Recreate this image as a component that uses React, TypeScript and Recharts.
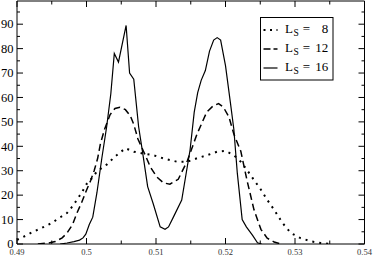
import { LineChart, Line, XAxis, YAxis, Legend } from 'recharts'

const xTicks = [0.49, 0.495, 0.5, 0.505, 0.51, 0.515, 0.52, 0.525, 0.53, 0.535, 0.54]
const yTicks = [0, 5, 10, 15, 20, 25, 30, 35, 40, 45, 50, 55, 60, 65, 70, 75, 80, 85, 90, 95]

const sizes = [8, 12, 16]

// L_S = 8 (dotted)
const x8 = [
  0.49, 0.4912, 0.4923, 0.4935, 0.4948, 0.496, 0.4972, 0.498, 0.4986, 0.4993, 0.5, 0.5008,
  0.5015, 0.5029, 0.5041, 0.5056, 0.5068, 0.5082, 0.5096, 0.5111, 0.513, 0.5145, 0.5159,
  0.5174, 0.5188, 0.52, 0.5212, 0.5222, 0.5231, 0.5241, 0.5251, 0.526, 0.527, 0.5282,
  0.5294, 0.5308, 0.5323, 0.5337, 0.535,
]
const y8 = [
  1.7, 3.3, 5, 6.5, 8.3, 10.5, 12.7, 15.5, 18, 21, 24.5, 27, 29.7, 32.5, 35.8, 39.2, 37.8,
  37, 36.4, 35, 33.7, 33.7, 35.1, 36.4, 37.8, 38.1, 36.4, 33.7, 30.3, 26.2, 22.2, 18.1, 14,
  8.6, 4.5, 2.4, 1.1, 0.4, 0,
]

// L_S = 12 (dashed)
const x12 = [
  0.493, 0.4945, 0.4955, 0.4965, 0.4972, 0.498, 0.4986, 0.4993, 0.5, 0.5006, 0.5011, 0.5016,
  0.502, 0.5026, 0.5034, 0.5041, 0.5048, 0.5056, 0.5063, 0.5068, 0.5074, 0.5082, 0.5092,
  0.5101, 0.5111, 0.512, 0.5132, 0.5145, 0.5159, 0.5173, 0.5182, 0.519, 0.5197, 0.5205,
  0.5212, 0.5222, 0.5231, 0.5241, 0.5251, 0.526, 0.527, 0.528,
]
const y12 = [
  0, 0.4, 1, 2.5, 4.5, 8, 12.5, 17, 22, 26, 30, 35, 41, 47, 53, 55.5, 56, 55, 52.5, 49, 43,
  38, 31.5, 27.5, 25, 24.5, 26.5, 34, 45, 54, 56.5, 57.5, 56, 52, 45, 38, 26, 14, 6, 2.4,
  0.8, 0,
]

// L_S = 16 (solid)
const x16 = [
  0.4962, 0.4972, 0.4982, 0.499, 0.4995, 0.4999, 0.5004, 0.5009, 0.5015, 0.5022, 0.5029,
  0.5035, 0.504, 0.5046, 0.5057, 0.5062, 0.5068, 0.5075, 0.5081, 0.5088, 0.5096, 0.5106,
  0.5113, 0.5118, 0.5125, 0.5137, 0.5149, 0.5155, 0.516, 0.5165, 0.5171, 0.5177, 0.5183,
  0.5188, 0.5193, 0.52, 0.5207, 0.5212, 0.5217, 0.5224, 0.523, 0.5239, 0.5246, 0.5252,
]
const y16 = [
  0, 0.4, 1, 1.6, 2.5, 4, 8, 11, 21, 35, 48, 61.5, 78, 74.5, 89.5, 70, 67.5, 48, 37, 23.5,
  16.5, 7, 6, 7, 11, 18, 38.5, 54, 62, 67, 71, 79, 83.5, 84.5, 83.5, 73, 58, 47, 29, 10, 7,
  3.5, 0.5, 0,
]

const toPoints = (xs: number[], ys: number[]) => xs.map((x, i) => ({ x, y: ys[i] }))

const series = [
  { name: sizes[0], data: toPoints(x8, y8), width: 2, dash: '2 5' },
  { name: sizes[1], data: toPoints(x12, y12), width: 1.5, dash: '7 4' },
  { name: sizes[2], data: toPoints(x16, y16), width: 1.2, dash: undefined },
]

const font = '"Liberation Serif", "Times New Roman", serif'

const isMajorX = (v: number) => Math.round(v * 1000) % 10 === 0
const isMajorY = (v: number) => v % 10 === 0

function BottomTick({ x, y, payload }: any) {
  const major = isMajorX(payload.value)
  return (
    <g>
      <line x1={x} x2={x} y1={y} y2={y - (major ? 6 : 3.5)} stroke="#000" />
      {major && (
        <text x={x} y={y + 10.5} textAnchor="middle" fontSize={8.5} fontFamily={font} fill="#333">
          {Number(payload.value.toFixed(3))}
        </text>
      )}
    </g>
  )
}

function TopTick({ x, y, payload }: any) {
  const major = isMajorX(payload.value)
  return <line x1={x} x2={x} y1={y} y2={y + (major ? 6 : 3.5)} stroke="#000" />
}

function LeftTick({ x, y, payload }: any) {
  const major = isMajorY(payload.value)
  return (
    <g>
      <line x1={x} x2={x + (major ? 6 : 3)} y1={y} y2={y} stroke="#000" />
      {major && (
        <text x={x - 3.5} y={y + 4.2} textAnchor="end" fontSize={12.5} fontFamily={font} fill="#000">
          {payload.value}
        </text>
      )}
    </g>
  )
}

function RightTick({ x, y, payload }: any) {
  const major = isMajorY(payload.value)
  return <line x1={x} x2={x - (major ? 6 : 3)} y1={y} y2={y} stroke="#000" />
}

function LegendBox() {
  const rows = [13, 32, 51]
  return (
    <div style={{ width: 74, height: 64 }}>
      <svg width={74} height={64} style={{ display: 'block' }}>
        <rect x={0.5} y={0.5} width={72.5} height={62.5} fill="#fff" stroke="#000" />
        {series.map((s, i) => {
          const cy = rows[i]
          const base = cy + 2.5
          return (
            <g key={s.name} fontFamily={font} fill="#000">
              <line
                x1={3.5}
                x2={17.5}
                y1={cy}
                y2={cy}
                stroke="#000"
                strokeWidth={s.width}
                strokeDasharray={i === 0 ? '2 4.5' : i === 1 ? '7 3' : undefined}
              />
              <text x={25} y={base} fontSize={13}>L</text>
              <text x={33.5} y={base + 3} fontSize={9.5}>S</text>
              <text x={42.8} y={base} fontSize={13}>=</text>
              <text x={68.3} y={base} fontSize={13} textAnchor="end">{s.name}</text>
            </g>
          )
        })}
      </svg>
    </div>
  )
}

export default function App() {
  return (
    <div style={{ width: 374, height: 256, position: 'relative', background: '#fff' }}>
      <style>{'body{margin:0}'}</style>
      <LineChart width={374} height={256} margin={{ top: 0, right: 0, bottom: 0, left: 0 }}>
        <XAxis
          dataKey="x"
          type="number"
          domain={[0.49, 0.54]}
          ticks={xTicks}
          interval={0}
          height={12}
          allowDataOverflow
          tickLine={false}
          tickSize={0}
          tickMargin={0}
          axisLine={{ stroke: '#000' }}
          tick={<BottomTick />}
        />
        <XAxis
          xAxisId="top"
          orientation="top"
          dataKey="x"
          type="number"
          domain={[0.49, 0.54]}
          ticks={xTicks}
          interval={0}
          height={1}
          allowDataOverflow
          tickLine={false}
          tickSize={0}
          tickMargin={0}
          axisLine={{ stroke: '#000' }}
          tick={<TopTick />}
        />
        <YAxis
          type="number"
          domain={[0, 99.5]}
          ticks={yTicks}
          interval={0}
          width={17}
          allowDataOverflow
          tickLine={false}
          tickSize={0}
          tickMargin={0}
          axisLine={{ stroke: '#000' }}
          tick={<LeftTick />}
        />
        <YAxis
          yAxisId="right"
          orientation="right"
          type="number"
          domain={[0, 99.5]}
          ticks={yTicks}
          interval={0}
          width={9.5}
          allowDataOverflow
          tickLine={false}
          tickSize={0}
          tickMargin={0}
          axisLine={{ stroke: '#000' }}
          tick={<RightTick />}
        />
        <Legend
          layout="vertical"
          align="center"
          verticalAlign="middle"
          wrapperStyle={{ left: 260, top: 17, width: 74, height: 64 }}
          content={<LegendBox />}
        />
        {series.map((s) => (
          <Line
            key={s.name}
            name={`L_S = ${s.name}`}
            data={s.data}
            dataKey="y"
            type="linear"
            stroke="#000"
            strokeWidth={s.width}
            strokeDasharray={s.dash}
            dot={false}
            activeDot={false}
            isAnimationActive={false}
          />
        ))}
      </LineChart>
    </div>
  )
}
